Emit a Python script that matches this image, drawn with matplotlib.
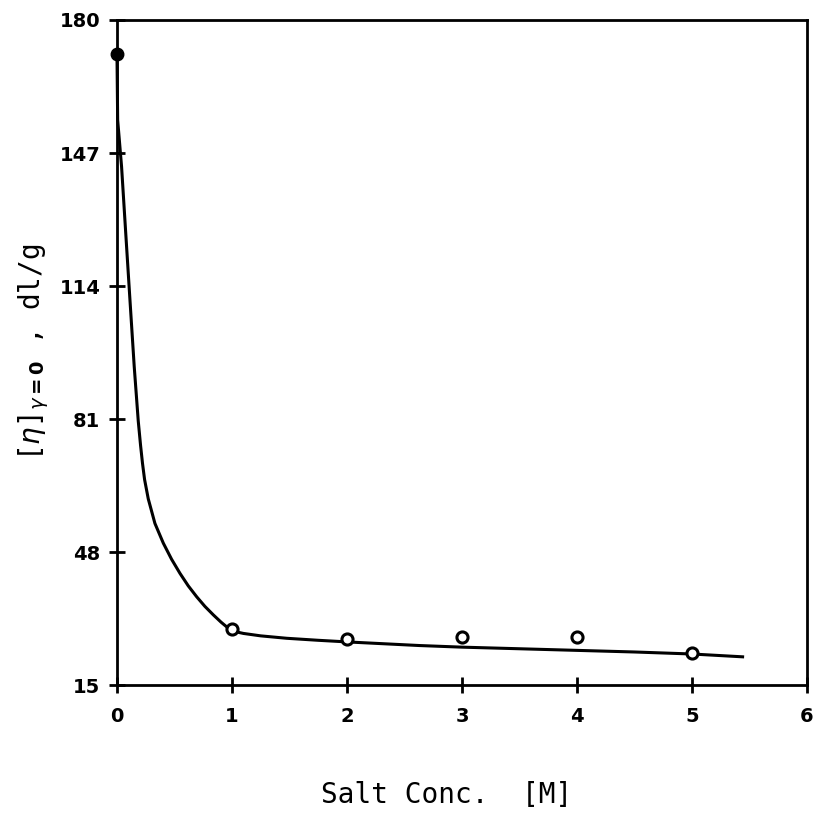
import matplotlib.pyplot as plt

# Intrinsic viscosity at zero shear vs. salt concentration
conc = [0, 1, 2, 3, 4, 5]
eta = [171.5, 28.8, 26.3, 26.9, 26.9, 22.9]

# Smooth fit curve through the measurements
fit_x = [0.0, 0.006, 0.04, 0.076, 0.113, 0.15, 0.185, 0.205, 0.222, 0.24,
         0.272, 0.33, 0.403, 0.475, 0.548, 0.62, 0.693, 0.765, 0.838,
         0.905, 0.968, 1.02, 1.1, 1.25, 1.476, 1.75, 2.0, 2.63, 3.0, 3.5,
         4.0, 4.5, 5.0, 5.44]
fit_y = [171.5, 155.2, 143.6, 127.2, 110.5, 94.0, 80.5, 74.5, 70.0, 66.0,
         61.2, 55.1, 50.2, 46.2, 42.7, 39.6, 36.9, 34.5, 32.4, 30.6, 29.1,
         28.3, 27.8, 27.2, 26.6, 26.1, 25.7, 24.8, 24.4, 24.0, 23.6, 23.2,
         22.7, 22.0]

x_ticks = [0, 1, 2, 3, 4, 5, 6]
y_ticks = [15, 48, 81, 114, 147, 180]

fig = plt.figure(figsize=(8.14, 8.13), dpi=100)
ax = fig.add_axes([0.1437, 0.1574, 0.8477, 0.8180])

ax.plot(fit_x, fit_y, color="black", linewidth=2.2, solid_joinstyle="round",
        zorder=3, clip_on=False)
ax.plot(conc[1:], eta[1:], linestyle="", marker="o", markersize=8,
        markerfacecolor="white", markeredgecolor="black",
        markeredgewidth=2.2, zorder=4)
ax.plot(conc[:1], eta[:1], linestyle="", marker="o", markersize=9,
        color="black", zorder=4, clip_on=False)

ax.set_xlim(0, 6)
ax.set_ylim(15, 180)
ax.set_xticks(x_ticks)
ax.set_yticks(y_ticks)
ax.set_xticklabels([str(t) for t in x_ticks], fontsize=14, fontweight="bold")
ax.set_yticklabels([str(t) for t in y_ticks], fontsize=14, fontweight="bold")
ax.tick_params(direction="inout", length=12, width=2, pad=6)
ax.tick_params(axis="x", pad=10)

for side in ["left", "right", "top", "bottom"]:
    ax.spines[side].set_linewidth(2)

ax.set_xlabel("Salt Conc.  [M]", family="DejaVu Sans Mono", fontsize=20)
ax.xaxis.set_label_coords(0.478, -0.145)
ax.set_ylabel(r"[$\eta$]$_{\gamma\mathbf{=0}}$ , dl/g",
              family="DejaVu Sans Mono", fontsize=20)
ax.yaxis.set_label_coords(-0.095, 0.5)

fig.savefig("out.png", dpi=100)
